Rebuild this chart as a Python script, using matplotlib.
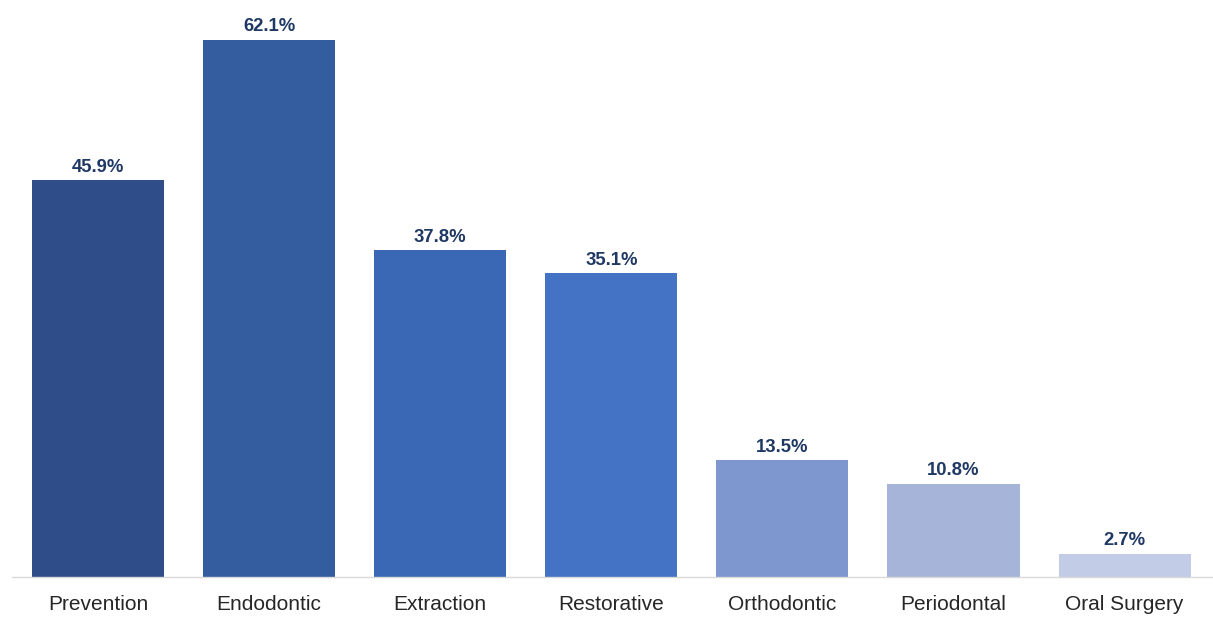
import matplotlib
matplotlib.use("Agg")
import matplotlib.pyplot as plt

categories = ["Prevention", "Endodontic", "Extraction", "Restorative",
              "Orthodontic", "Periodontal", "Oral Surgery"]
values = [45.9, 62.1, 37.8, 35.1, 13.5, 10.8, 2.7]
colors = ["#2e4d89", "#345da0", "#3b68b4", "#4472c4",
          "#7f97cf", "#a7b4d9", "#c3cce6"]

plt.rcParams["font.family"] = ["Liberation Sans", "DejaVu Sans"]

W, H = 1213, 618
fig = plt.figure(figsize=(W / 100, H / 100), dpi=100)
ax = fig.add_axes([12 / W, 1 - 577 / H, (1213 - 12) / W, 577 / H])

x = range(len(categories))
bars = ax.bar(x, values, width=0.772, color=colors)

for b, v in zip(bars, values):
    ax.text(b.get_x() + b.get_width() / 2, v + 0.5, f"{v}%",
            ha="center", va="bottom", fontsize=13.3, fontweight="bold",
            color="#1f3864")

ax.set_xlim(-0.503, 6.517)
ax.set_ylim(0, 66.7)
ax.set_xticks(list(x))
ax.set_xticklabels(categories, fontsize=15, color="#262626")
ax.tick_params(axis="x", length=0, pad=13)
ax.set_yticks([])
for s in ["top", "right", "left"]:
    ax.spines[s].set_visible(False)
ax.spines["bottom"].set_color("#d9d9d9")
ax.spines["bottom"].set_linewidth(1.0)

fig.savefig("out.png", dpi=100, facecolor="white")
